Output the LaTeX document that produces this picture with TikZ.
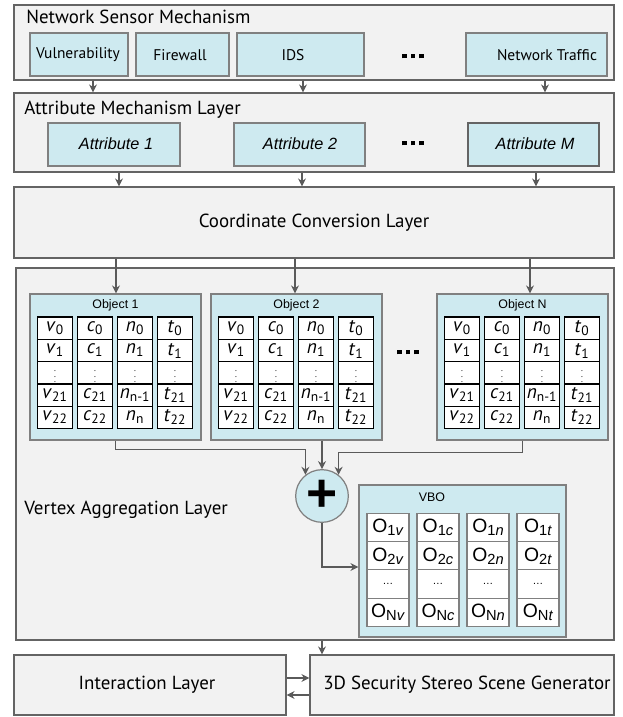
\documentclass[tikz,border=0pt]{standalone}
\usepackage{fontspec}
\setmainfont{PT Sans}
\newfontfamily\arialfont{Liberation Sans}
\usetikzlibrary{fit, arrows.meta, positioning}
\definecolor{layerfill}{RGB}{242,242,242}
\definecolor{layerline}{RGB}{100,100,100}
\definecolor{paleblue}{RGB}{206,234,240}
\definecolor{boxline}{RGB}{128,128,128}
\definecolor{arrowgray}{RGB}{90,90,90}
\newcommand{\squaredots}{\rule{3.6pt}{3.6pt}\hspace{3pt}\rule{3.6pt}{3.6pt}\hspace{3pt}\rule{3.6pt}{3.6pt}}
\newcommand{\vbosub}[1]{\raisebox{-2.2pt}{\fontsize{11}{11}\selectfont #1}}
\tikzstyle{layer} = [rectangle, draw=layerline, fill=layerfill, line width=0.9pt, inner sep=0pt]
\tikzstyle{title} = [inner sep=0pt, font=\fontsize{14.2}{16}\selectfont]
\tikzstyle{sensorbox} = [rectangle, draw=boxline, fill=paleblue, line width=0.9pt, inner sep=0pt]
\tikzstyle{sensortext} = [inner sep=0pt, font=\fontsize{11.6}{13}\selectfont]
\tikzstyle{attrtext} = [inner sep=0pt, font=\arialfont\itshape\fontsize{12.2}{14}\selectfont]
\tikzstyle{objbox} = [rectangle, draw=boxline, fill=paleblue, line width=0.9pt, inner sep=0pt]
\tikzstyle{objtitle} = [inner sep=0pt, font=\arialfont\fontsize{9.3}{11}\selectfont]
\tikzstyle{cell} = [rectangle, draw=black, fill=white, line width=1.1pt, minimum width=26pt, minimum height=16.7pt, inner sep=0pt, font=\fontsize{14.5}{15}\selectfont]
\tikzstyle{vbocell} = [rectangle, draw=boxline, fill=white, line width=0.9pt, minimum width=31.5pt, minimum height=21.4pt, inner sep=0pt, font=\arialfont\fontsize{14.5}{15}\selectfont]
\tikzstyle{plusnode} = [circle, draw=boxline, fill=paleblue, line width=0.9pt, minimum size=39.5pt, inner sep=0pt, font=\arialfont\bfseries\fontsize{40}{40}\selectfont]
\tikzstyle{arrow} = [draw=arrowgray, line width=0.9pt, -{Stealth[length=6pt, width=6pt]}]

\begin{document}
\begin{tikzpicture}[x=0.75pt, y=-0.75pt]
\useasboundingbox (0,0) rectangle (622,717);
% LAYERS
\node (sensor) [layer, fit={(14,5) (614,80)}] {};
\node (sensor-title) [title, anchor=west] at (26,17) {Network Sensor Mechanism};
\node (attr) [layer, fit={(14,93) (614,172)}] {};
\node (attr-title) [title, anchor=west] at (24,110) {Attribute Mechanism Layer};
\node (coord) [layer, fit={(14,187) (614,258)}] {};
\node (coord-title) [title] at (coord.center) {Coordinate Conversion Layer};
\node (vertex) [layer, fit={(16,268) (614,640)}] {};
\node (vertex-title) [title, anchor=west] at (24,510) {Vertex Aggregation Layer};
\node (interact) [layer, fit={(14,655) (286,715)}] {};
\node (interact-title) [title] at (147,685) {Interaction Layer};
\node (scene) [layer, fit={(310,655) (614,715)}] {};
\node (scene-title) [title] at (467,685) {3D Security Stereo Scene Generator};

% SENSORS
\node (vul) [sensorbox, fit={(30,33) (128,76)}] {};
\node (vul-text) [sensortext] at (78,55) {Vulnerability};
\node (firewall) [sensorbox, fit={(136,33) (229,76)}] {};
\node (firewall-text) [sensortext] at (180,55) {Firewall};
\node (ids) [sensorbox, fit={(237,33) (364,76)}] {};
\node (ids-text) [sensortext] at (293,55) {IDS};
\node (sensor-dots) at (413,56) {\squaredots};
\node (traffic) [sensorbox, fit={(466,33) (607,76)}] {};
\node (traffic-text) [sensortext] at (547,55) {Network Traffic};

% ATTRIBUTES
\node (attr1) [sensorbox, fit={(48,123) (180,166)}] {};
\node (attr1-text) [attrtext] at (116,144) {Attribute 1};
\node (attr2) [sensorbox, fit={(234,123) (365,166)}] {};
\node (attr2-text) [attrtext] at (300,144) {Attribute 2};
\node (attr-dots) at (413,143) {\squaredots};
\node (attrM) [sensorbox, draw=layerline, fit={(468,123) (599,166)}] {};
\node (attrM-text) [attrtext] at (535,144) {Attribute M};

% OBJECTS
\foreach \ox/\oname/\otext in {30/obj1/Object 1, 211/obj2/Object 2, 437/objN/Object N}{
  \node (\oname) [objbox, fit={(\ox,294) (\ox+171,440)}] {};
  \node (\oname-title) [objtitle] at (\ox+85.5,305) {\otext};
  \foreach \sym/\sa/\sb [count=\ci from 0] in {v/21/22, c/21/22, n/n-1/n, t/21/22}{
    \node (\oname-\sym0) [cell] at (\ox+25+40*\ci,328.2) {\textit{\sym}\textsubscript{0}};
    \node (\oname-\sym1) [cell] at (\ox+25+40*\ci,350.5) {\textit{\sym}\textsubscript{1}};
    \node (\oname-\sym2) [cell] at (\ox+25+40*\ci,372.8) {\fontsize{6.5}{6.5}\selectfont$\vdots$};
    \node (\oname-\sym3) [cell] at (\ox+25+40*\ci,395.1) {\textit{\sym}\textsubscript{\sa}};
    \node (\oname-\sym4) [cell] at (\ox+25+40*\ci,417.4) {\textit{\sym}\textsubscript{\sb}};
  }
}
\node (obj-dots) at (408,352) {\squaredots};

% AGGREGATION
\node (plus) [plusnode] at (322,496) {+};
\node (vbo) [objbox, fit={(359,485) (566,637)}] {};
\node (vbo-title) [objtitle] at (432,497) {VBO};
\foreach \sym [count=\ci from 0] in {v,c,n,t}{
  \node (vbo-\sym1) [vbocell] at (388+50*\ci,527.5) {O\vbosub{1\textit{\sym}}};
  \node (vbo-\sym2) [vbocell] at (388+50*\ci,556) {O\vbosub{2\textit{\sym}}};
  \node (vbo-\sym3) [vbocell] at (388+50*\ci,584) {\fontsize{8}{8}\selectfont\dots};
  \node (vbo-\sym4) [vbocell] at (388+50*\ci,612.5) {O\vbosub{N\textit{\sym}}};
}

% ARROWS
\coordinate (s1) at (93,0);
\coordinate (s2) at (303,0);
\coordinate (s3) at (545,0);
\coordinate (a1) at (119,0);
\coordinate (a2) at (302,0);
\coordinate (a3) at (536,0);
\coordinate (c1) at (116,0);
\coordinate (c2) at (295,0);
\coordinate (c3) at (530,0);
\draw [arrow] (s1 |- sensor.south) -- (s1 |- attr.north);
\draw [arrow] (s2 |- sensor.south) -- (s2 |- attr.north);
\draw [arrow] (s3 |- sensor.south) -- (s3 |- attr.north);
\draw [arrow] (a1 |- attr.south) -- (a1 |- coord.north);
\draw [arrow] (a2 |- attr.south) -- (a2 |- coord.north);
\draw [arrow] (a3 |- attr.south) -- (a3 |- coord.north);
\draw [arrow] (c1 |- coord.south) -- (c1 |- obj1.north);
\draw [arrow] (c2 |- coord.south) -- (c2 |- obj2.north);
\draw [arrow] (c3 |- coord.south) -- (c3 |- objN.north);

\draw [arrow] (obj1.south) -- ++(0,9) -| (plus.128);
\draw [arrow] (obj2.south -| plus.north) -- (plus.north);
\draw [arrow] (objN.south) -- ++(0,12) -| (plus.52);
\draw [arrow] (plus.south) |- ([yshift=-4.5pt]vbo.west);

\draw [arrow] (plus.south |- vertex.south) -- (plus.south |- scene.north);
\draw [arrow] ([yshift=5.25pt]interact.east) -- ([yshift=5.25pt]scene.west);
\draw [arrow] ([yshift=-7.5pt]scene.west) -- ([yshift=-7.5pt]interact.east);
\end{tikzpicture}
\end{document}
